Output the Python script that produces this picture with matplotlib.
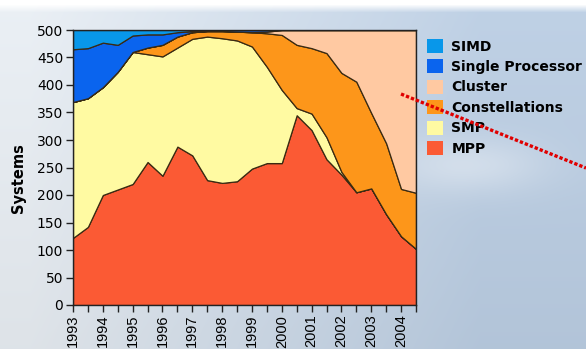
# %%

import numpy as np
import matplotlib.pyplot as plt
from matplotlib.lines import Line2D
from matplotlib.ticker import MultipleLocator

plt.rcParams['font.family'] = ['DejaVu Sans']

# TOP500 lists, June / November of each year
list_dates = [1993.0, 1993.5, 1994.0, 1994.5, 1995.0, 1995.5, 1996.0, 1996.5,
              1997.0, 1997.5, 1998.0, 1998.5, 1999.0, 1999.5, 2000.0, 2000.5,
              2001.0, 2001.5, 2002.0, 2002.5, 2003.0, 2003.5, 2004.0, 2004.5]

mpp = [122, 142, 200, 210, 220, 260, 235, 288, 272, 227, 222, 225,
       248, 258, 258, 345, 318, 265, 237, 205, 212, 165, 125, 102]
smp = [247, 234, 196, 214, 240, 196, 217, 180, 212, 261, 263, 256,
       222, 175, 133, 13, 30, 40, 5, 0, 0, 0, 0, 0]
constellations = [0, 0, 0, 0, 0, 12, 21, 20, 12, 10, 13, 16,
                  26, 61, 100, 115, 119, 153, 180, 201, 137, 129, 86, 102]
cluster = [0, 0, 0, 0, 0, 0, 0, 0, 0, 0, 0, 0,
           0, 3, 9, 27, 33, 42, 78, 94, 151, 206, 289, 296]
single_proc = [96, 91, 81, 49, 30, 24, 19, 8, 2, 1, 2, 3,
               4, 3, 0, 0, 0, 0, 0, 0, 0, 0, 0, 0]
simd = [35, 33, 23, 27, 10, 8, 8, 4, 2, 1, 0, 0,
        0, 0, 0, 0, 0, 0, 0, 0, 0, 0, 0, 0]

series_names = ['MPP', 'SMP', 'Constellations', 'Cluster', 'Single Processor', 'SIMD']
series_colors = ['#FB5A34', '#FFFAA2', '#FD961A', '#FFC9A2', '#0A64EE', '#0897EA']

year_ticks = [1993, 1994, 1995, 1996, 1997, 1998, 1999, 2000, 2001, 2002, 2003, 2004]

W, H = 586, 349
fig = plt.figure(figsize=(W / 100, H / 100), dpi=100)

# backdrop: pale grey on the left fading into light blue, white strip on top
bg = fig.add_axes([0, 0, 1, 1], zorder=-10)
xx, yy = np.meshgrid(np.arange(W), np.arange(H))
t = np.clip((xx - 30) / 450.0, 0, 1)[..., None]
left_c = np.array([0.92, 0.94, 0.96])
right_c = np.array([0.75, 0.82, 0.90])
img = left_c * (1 - t) + right_c * t
img = img - (yy / H * 0.05)[..., None]
cloud = np.exp(-(((xx - 470) / 75.0) ** 2 + ((yy - 165) / 28.0) ** 2))[..., None]
img = img * (1 - 0.35 * cloud) + 0.35 * cloud
top = np.clip((12 - yy) / 8.0, 0, 1)[..., None]
img = img * (1 - top) + top
bg.imshow(np.clip(img, 0, 1), aspect='auto', extent=(0, W, H, 0))
bg.axis('off')

ax = fig.add_axes([73 / W, 1 - 305 / H, 343 / W, 275 / H])
polys = ax.stackplot(list_dates, mpp, smp, constellations, cluster, single_proc, simd,
                     colors=series_colors, labels=series_names,
                     edgecolor='#3a2a12', linewidth=0.9)

ax.set_xlim(1993, 2004.5)
ax.set_ylim(0, 500)
ax.set_facecolor('none')

ax.set_yticks(range(0, 501, 50))
ax.set_xticks(year_ticks)
ax.xaxis.set_minor_locator(MultipleLocator(0.5))
ax.set_xticklabels([str(y) for y in year_ticks], rotation=90, fontsize=10.5,
                   family='Liberation Sans')
ax.tick_params(axis='y', labelsize=10, length=5, width=1, pad=2, color='#222222')
ax.tick_params(axis='x', which='both', length=5, width=1, pad=2, color='#222222')
for sp in ax.spines.values():
    sp.set_color('#222222')
    sp.set_linewidth(1)

ax.set_ylabel('Systems', fontsize=10.5, fontweight='bold')
ax.yaxis.set_label_coords(-47 / 343, 0.46)

handles, labels = ax.get_legend_handles_labels()
leg = ax.legend(handles[::-1], labels[::-1], loc='upper left',
                bbox_to_anchor=(427 / W, 1 - 39 / H), bbox_transform=fig.transFigure,
                frameon=False, borderpad=0, borderaxespad=0,
                handlelength=1.15, handleheight=1.15, handletextpad=0.6,
                labelspacing=0.42, prop={'size': 10, 'weight': 'bold'})
for p in leg.get_patches():
    p.set_edgecolor('none')

# red pointer line over the legend
fig.add_artist(Line2D([401 / W, 1.0], [1 - 94 / H, 1 - 168 / H],
                      transform=fig.transFigure, color='#e00000',
                      linestyle=(0, (1, 0.6)), linewidth=2.4, zorder=20))

plt.savefig('out.png', dpi=100)
